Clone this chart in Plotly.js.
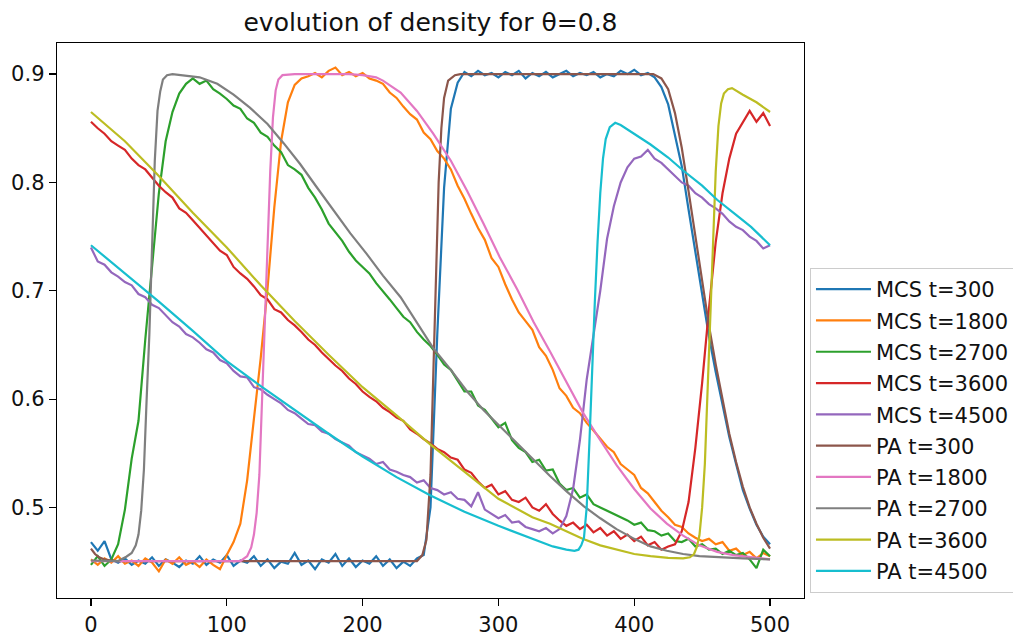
<!DOCTYPE html>
<html>
<head>
<meta charset="utf-8">
<script src="https://cdn.plot.ly/plotly-3.0.1.min.js"></script>
<style>html,body{margin:0;padding:0;background:#fff;}#chart{width:1013px;height:640px;}</style>
</head>
<body>
<div id="chart"></div>
<script>
// MCS sample positions
const xMCS = [0,5,10,15,20,25,30,35,40,45,50,55,60,65,70,75,80,85,90,95,
  100,105,110,115,120,125,130,135,140,145,150,155,160,165,170,175,180,185,190,195,
  200,205,210,215,220,225,230,235,240,245,250,255,260,265,270,275,280,285,290,295,
  300,305,310,315,320,325,330,335,340,345,350,355,360,365,370,375,380,385,390,395,
  400,405,410,415,420,425,430,435,440,445,450,455,460,465,470,475,480,485,490,495,500];

const mcs300 = [0.468,0.460,0.469,0.452,0.449,0.453,0.447,0.451,0.448,0.454,
  0.446,0.452,0.449,0.445,0.451,0.448,0.455,0.447,0.452,0.449,
  0.456,0.446,0.451,0.449,0.455,0.446,0.452,0.444,0.450,0.448,
  0.458,0.447,0.451,0.443,0.452,0.449,0.457,0.446,0.453,0.445,
  0.451,0.448,0.455,0.446,0.452,0.444,0.450,0.446,0.453,0.456,
  0.500,0.660,0.795,0.868,0.892,0.902,0.898,0.903,0.899,0.901,
  0.897,0.902,0.899,0.903,0.896,0.901,0.898,0.902,0.897,0.900,
  0.903,0.898,0.901,0.899,0.902,0.897,0.900,0.898,0.903,0.900,
  0.904,0.899,0.901,0.897,0.888,0.872,0.845,0.815,0.775,0.735,
  0.695,0.658,0.625,0.596,0.565,0.540,0.516,0.499,0.484,0.473,0.466];

const mcs1800 = [0.452,0.447,0.453,0.449,0.455,0.448,0.451,0.446,0.453,0.449,
  0.441,0.452,0.448,0.454,0.447,0.450,0.445,0.452,0.447,0.443,
  0.456,0.468,0.485,0.525,0.582,0.638,0.702,0.777,0.838,0.874,
  0.890,0.896,0.898,0.901,0.897,0.903,0.906,0.899,0.902,0.898,
  0.901,0.896,0.894,0.891,0.883,0.878,0.870,0.863,0.858,0.846,
  0.840,0.829,0.822,0.812,0.797,0.785,0.771,0.758,0.747,0.730,
  0.722,0.706,0.692,0.680,0.672,0.664,0.648,0.640,0.627,0.610,
  0.603,0.592,0.587,0.578,0.571,0.564,0.556,0.551,0.540,0.535,
  0.530,0.518,0.513,0.505,0.497,0.491,0.484,0.482,0.476,0.472,
  0.469,0.471,0.466,0.468,0.460,0.462,0.456,0.459,0.453,0.458,0.455];

const mcs2700 = [0.447,0.455,0.446,0.452,0.466,0.498,0.545,0.580,0.655,0.725,
  0.790,0.838,0.865,0.882,0.891,0.896,0.891,0.894,0.886,0.882,
  0.877,0.871,0.868,0.859,0.855,0.846,0.842,0.834,0.828,0.816,
  0.812,0.807,0.795,0.786,0.775,0.762,0.754,0.746,0.736,0.728,
  0.722,0.716,0.707,0.700,0.692,0.684,0.676,0.671,0.662,0.655,
  0.649,0.641,0.632,0.627,0.617,0.607,0.607,0.594,0.590,0.582,
  0.574,0.578,0.562,0.555,0.551,0.542,0.544,0.534,0.535,0.522,
  0.516,0.518,0.509,0.512,0.503,0.500,0.497,0.494,0.491,0.488,
  0.484,0.486,0.479,0.478,0.474,0.476,0.469,0.468,0.471,0.464,
  0.466,0.461,0.462,0.457,0.460,0.456,0.458,0.452,0.444,0.461,0.455];

const mcs3600 = [0.856,0.850,0.845,0.838,0.834,0.830,0.822,0.816,0.812,0.804,
  0.797,0.791,0.786,0.776,0.772,0.765,0.758,0.751,0.745,0.737,
  0.733,0.722,0.716,0.711,0.704,0.696,0.692,0.683,0.680,0.673,
  0.668,0.662,0.655,0.650,0.643,0.637,0.631,0.626,0.619,0.614,
  0.607,0.602,0.598,0.592,0.588,0.583,0.580,0.572,0.568,0.563,
  0.559,0.554,0.551,0.546,0.544,0.535,0.532,0.524,0.518,0.521,
  0.512,0.515,0.507,0.505,0.509,0.500,0.497,0.503,0.494,0.488,
  0.483,0.486,0.480,0.484,0.477,0.481,0.474,0.478,0.471,0.475,
  0.469,0.473,0.465,0.468,0.461,0.464,0.466,0.478,0.505,0.555,
  0.615,0.683,0.745,0.790,0.822,0.845,0.855,0.866,0.856,0.864,0.852];

const mcs4500 = [0.740,0.727,0.724,0.717,0.713,0.708,0.705,0.697,0.694,0.687,
  0.684,0.677,0.671,0.667,0.660,0.657,0.652,0.646,0.643,0.636,
  0.633,0.626,0.621,0.620,0.611,0.609,0.604,0.600,0.596,0.590,
  0.587,0.582,0.577,0.576,0.570,0.568,0.563,0.560,0.557,0.551,
  0.548,0.545,0.540,0.542,0.535,0.533,0.530,0.528,0.523,0.525,
  0.518,0.516,0.512,0.514,0.508,0.507,0.501,0.514,0.498,0.494,
  0.490,0.493,0.486,0.487,0.482,0.480,0.478,0.481,0.476,0.480,
  0.492,0.517,0.562,0.618,0.657,0.700,0.748,0.778,0.800,0.814,
  0.822,0.824,0.830,0.822,0.818,0.812,0.806,0.800,0.797,0.790,
  0.786,0.780,0.776,0.771,0.764,0.759,0.756,0.750,0.746,0.739,0.742];

// PA curves (sample positions and values)
const pa300X = [0,3,6,10,15,20,240,244,247,250,252,254,256,258,260,263,268,272,414,420,425,430,435,440,445,450,455,460,465,470,475,480,485,490,495,500];
const pa300Y = [0.462,0.457,0.454,0.452,0.451,0.4505,0.4505,0.456,0.470,0.530,0.620,0.720,0.800,0.850,0.878,0.894,0.899,0.900,0.900,0.896,0.886,0.864,0.832,0.792,0.750,0.708,0.668,0.632,0.600,0.568,0.542,0.519,0.500,0.485,0.472,0.462];

const pa1800X = [0,110,115,118,120,122,124,126,128,130,132,134,136,138,141,150,190,200,210,215,220,228,240,252,265,277,289,301,314,326,338,350,362,375,387,400,412,424,436,448,461,473,485,500];
const pa1800Y = [0.4505,0.4505,0.455,0.463,0.475,0.495,0.530,0.600,0.670,0.740,0.810,0.860,0.885,0.895,0.899,0.900,0.900,0.899,0.897,0.894,0.890,0.883,0.866,0.845,0.820,0.792,0.762,0.731,0.701,0.671,0.644,0.616,0.588,0.562,0.539,0.517,0.499,0.485,0.474,0.465,0.459,0.456,0.454,0.452];

const pa2700X = [0,20,26,30,33,35,37,39,41,43,45,47,49,51,53,56,60,68,80,93,105,117,130,142,154,166,179,191,203,215,228,240,252,265,277,289,301,314,326,338,350,363,375,387,400,412,424,436,448,461,480,500];
const pa2700Y = [0.451,0.4505,0.4545,0.458,0.465,0.475,0.497,0.535,0.600,0.660,0.740,0.820,0.866,0.884,0.895,0.899,0.900,0.899,0.897,0.891,0.881,0.869,0.854,0.836,0.817,0.796,0.774,0.753,0.734,0.714,0.694,0.670,0.647,0.627,0.607,0.590,0.575,0.559,0.544,0.529,0.515,0.501,0.490,0.480,0.471,0.464,0.460,0.457,0.455,0.454,0.453,0.452];

const pa3600X = [0,25,50,75,100,125,150,175,200,225,250,275,300,325,338,350,362,375,387,400,412,425,436,441,444,446,448,450,452,454,456,458,460,462,464,466,469,472,475,480,490,500];
const pa3600Y = [0.865,0.838,0.806,0.772,0.740,0.705,0.672,0.641,0.611,0.585,0.558,0.533,0.508,0.491,0.485,0.478,0.471,0.465,0.461,0.457,0.455,0.4535,0.453,0.454,0.457,0.463,0.474,0.500,0.540,0.610,0.680,0.740,0.810,0.852,0.873,0.882,0.886,0.887,0.885,0.881,0.874,0.865];

const pa4500X = [0,25,50,75,100,125,150,175,200,225,250,275,300,325,340,350,356,359,361,363,365,367,369,371,373,375,377,379,382,386,390,400,412,425,436,450,461,475,486,500];
const pa4500Y = [0.742,0.716,0.690,0.663,0.635,0.612,0.590,0.568,0.547,0.528,0.511,0.496,0.483,0.471,0.464,0.461,0.460,0.461,0.465,0.472,0.500,0.560,0.630,0.690,0.745,0.790,0.822,0.840,0.851,0.855,0.853,0.845,0.835,0.823,0.811,0.797,0.784,0.770,0.759,0.742];

const seriesNames = ['MCS t=300','MCS t=1800','MCS t=2700','MCS t=3600','MCS t=4500',
                     'PA t=300','PA t=1800','PA t=2700','PA t=3600','PA t=4500'];
const colors = ['#1f77b4','#ff7f0e','#2ca02c','#d62728','#9467bd','#8c564b','#e377c2','#7f7f7f','#bcbd22','#17becf'];

const xTicks = [0,100,200,300,400,500];
const yTicks = [0.5,0.6,0.7,0.8,0.9];
const yTickText = ['0.5','0.6','0.7','0.8','0.9'];

const xs = [xMCS,xMCS,xMCS,xMCS,xMCS,pa300X,pa1800X,pa2700X,pa3600X,pa4500X];
const ys = [mcs300,mcs1800,mcs2700,mcs3600,mcs4500,pa300Y,pa1800Y,pa2700Y,pa3600Y,pa4500Y];

const traces = seriesNames.map((n,i)=>({
  x: xs[i], y: ys[i], name: n, legendgroup: 'g' + i, type: 'scatter', mode: 'lines',
  line: {color: colors[i], width: 2.2}
}));

const font = 'DejaVu Sans, sans-serif';
const fs = 21;
const layout = {
  width: 1013, height: 640,
  margin: {l:57, r:209, t:43, b:42, pad:0, autoexpand: false},
  paper_bgcolor: '#fff', plot_bgcolor: '#fff',
  font: {family: font, size: fs, color: '#111'},
  title: {text: 'evolution of density for θ=0.8', font: {family: font, size: 25, color: '#111'},
          xref: 'paper', x: 0.5, xanchor: 'center', yref: 'container', y: 1 - 22/640, yanchor: 'middle'},
  xaxis: {range: [-25, 525], tickvals: xTicks, ticktext: xTicks.map(String), ticks: 'outside', ticklen: 7, tickwidth: 1.2,
          tickcolor: '#000', showline: true, linecolor: '#000', linewidth: 1.3, mirror: true,
          showgrid: false, zeroline: false, tickfont: {family: font, size: fs, color: '#111'}},
  yaxis: {range: [0.4164, 0.9287], tickvals: yTicks, ticktext: yTickText, ticks: 'outside', ticklen: 7, tickwidth: 1.2,
          tickcolor: '#000', showline: true, linecolor: '#000', linewidth: 1.3, mirror: true,
          showgrid: false, zeroline: false, tickfont: {family: font, size: fs, color: '#111'}},
  showlegend: true,
  legend: {x: 1.008, xanchor: 'left', y: 0.009, yanchor: 'bottom', bgcolor: '#fff',
           bordercolor: '#cccccc', borderwidth: 1, font: {family: font, size: fs, color: '#111'},
           traceorder: 'grouped', tracegroupgap: 1, itemwidth: 55}
};

Plotly.newPlot('chart', traces, layout, {staticPlot: true, displayModeBar: false});
</script>
</body>
</html>
